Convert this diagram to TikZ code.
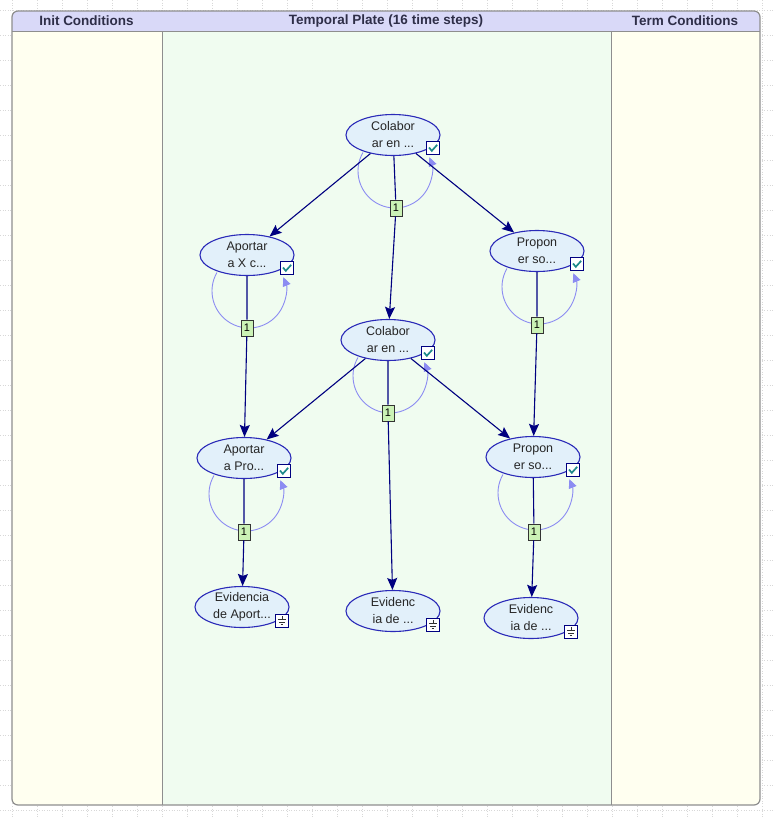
\documentclass[tikz,border=0pt]{standalone}
\usepackage{fontspec}
\setmainfont{Liberation Sans}
\usetikzlibrary{shapes.geometric,arrows.meta,calc}
\definecolor{gridc}{HTML}{D8D8D8}
\definecolor{framec}{HTML}{8E8E8E}
\definecolor{headc}{HTML}{D9D9F8}
\definecolor{headtxt}{HTML}{2E2E48}
\definecolor{ivory}{HTML}{FFFFF0}
\definecolor{plate}{HTML}{F0FCF0}
\definecolor{nodefill}{HTML}{E2F0FA}
\definecolor{nodeline}{HTML}{2A2AB8}
\definecolor{edgec}{HTML}{000080}
\definecolor{loopc}{HTML}{8C8CF2}
\definecolor{lblfill}{HTML}{CBF2B6}
\definecolor{checkc}{HTML}{1E8A8A}
\tikzset{
  gridline/.style={gridc, dotted, line width=0.6pt},
  hdr/.style={font=\bfseries\fontsize{13.5}{15}\selectfont, text=headtxt, inner sep=0pt},
  bn/.style={ellipse, draw=nodeline, fill=nodefill, line width=1.1pt,
    minimum width=94pt, minimum height=41pt, inner sep=0pt, align=center,
    font=\fontsize{12.5}{17}\selectfont, text=black!85},
  lbl/.style={draw=black!80, fill=lblfill, line width=0.8pt, minimum width=12pt,
    minimum height=16pt, inner sep=0pt, font=\fontsize{11}{11}\selectfont},
  edge/.style={edgec, line width=1.1pt, -{Stealth[length=12pt,width=10pt,inset=2pt]}},
  selfloop/.style={loopc, line width=0.9pt, -{Triangle[length=9pt,width=8pt]}},
  iconbox/.style={draw=edgec, fill=white, line width=0.9pt, minimum size=13pt, inner sep=0pt},
}
\newcommand\chkicon[2]{%
  \node[iconbox] (#2) at ($(#1)+(40,-13)$) {};
  \draw[checkc, line width=1.7pt] ($(#2)+(-4,0.5)$) -- ($(#2)+(-1.2,-2.8)$) -- ($(#2)+(4.2,3.2)$);
}
\newcommand\gndicon[2]{%
  \node[iconbox] (#2) at ($(#1)+(40,-14)$) {};
  \draw[black!80, line width=0.8pt] ($(#2)+(0,5)$) -- ($(#2)+(0,1.2)$)
    ($(#2)+(-4,1.2)$) -- ($(#2)+(4,1.2)$)
    ($(#2)+(-2.8,-1.2)$) -- ($(#2)+(2.8,-1.2)$)
    ($(#2)+(-1.4,-3.6)$) -- ($(#2)+(1.4,-3.6)$);
}
\newcommand\selfloopat[1]{%
  \draw[selfloop] ($(#1)+(2,-36)$) ++(150:37pt) arc[start angle=150, end angle=382, radius=37pt];
}
\begin{document}
\begin{tikzpicture}[x=1pt,y=1pt]
\useasboundingbox (0,0) rectangle (775,-819);
\fill[white] (0,0) rectangle (775,-819);
% background grid
\foreach \gx in {12,37,...,775} {\draw[gridline] (\gx,0) -- (\gx,-819);}
\foreach \gy in {10,35,...,819} {\draw[gridline] (0,-\gy) -- (775,-\gy);}
% frame and columns
\begin{scope}
  \clip[rounded corners=6pt] (12,-11) rectangle (760,-805);
  \fill[ivory] (12,-11) rectangle (760,-805);
  \fill[plate] (162,-31) rectangle (611,-805);
  \fill[headc] (12,-11) rectangle (760,-31);
\end{scope}
\draw[framec, line width=0.9pt] (162,-31) -- (162,-805) (611,-31) -- (611,-805);
\draw[framec, line width=0.6pt] (12,-31) -- (760,-31);
\draw[framec, line width=1.2pt, rounded corners=6pt] (12,-11) rectangle (760,-805);
\node[hdr] (h1) at (86.5,-21) {Init Conditions};
\node[hdr] (h2) at (386,-21) {Temporal Plate (16 time steps)};
\node[hdr] (h3) at (685,-21) {Term Conditions};
% self loops (drawn first, behind nodes)
\coordinate (ct1) at (393,-135);
\coordinate (ca1) at (247,-255);
\coordinate (cp1) at (537,-251);
\coordinate (cm1) at (388,-340);
\coordinate (ca2) at (244,-458);
\coordinate (cp2) at (533,-457);
\selfloopat{ct1}
\selfloopat{ca1}
\selfloopat{cp1}
\selfloopat{cm1}
\selfloopat{ca2}
\selfloopat{cp2}
% nodes
\node[bn] (t1) at (ct1) {Colabor\\ar en ...};
\node[bn] (a1) at (ca1) {Aportar\\a X c...};
\node[bn] (p1) at (cp1) {Propon\\er so...};
\node[bn] (m1) at (cm1) {Colabor\\ar en ...};
\node[bn] (a2) at (ca2) {Aportar\\a Pro...};
\node[bn] (p2) at (cp2) {Propon\\er so...};
\node[bn] (e1) at (242,-607) {Evidencia\\de Aport...};
\node[bn] (e2) at (393,-611) {Evidenc\\ia de ...};
\node[bn] (e3) at (531,-618) {Evidenc\\ia de ...};
% icons
\chkicon{t1}{it1}
\chkicon{a1}{ia1}
\chkicon{p1}{ip1}
\chkicon{m1}{im1}
\chkicon{a2}{ia2}
\chkicon{p2}{ip2}
\gndicon{e1}{ie1}
\gndicon{e2}{ie2}
\gndicon{e3}{ie3}
% edge labels
\node[lbl] (l1) at (396,-208) {1};
\node[lbl] (l2) at (247,-328) {1};
\node[lbl] (l3) at (537,-325) {1};
\node[lbl] (l4) at (388,-413) {1};
\node[lbl] (l5) at (244,-532) {1};
\node[lbl] (l6) at (534,-532) {1};
% edges
\draw[edge] (t1) -- (a1);
\draw[edge] (t1) -- (p1);
\draw[edge] (t1) -- (l1) -- (m1);
\draw[edge] (a1) -- (l2) -- (a2);
\draw[edge] (p1) -- (l3) -- (p2);
\draw[edge] (m1) -- (a2);
\draw[edge] (m1) -- (p2);
\draw[edge] (m1) -- (l4) -- (e2);
\draw[edge] (a2) -- (l5) -- (e1);
\draw[edge] (p2) -- (l6) -- (e3);
\end{tikzpicture}
\end{document}
